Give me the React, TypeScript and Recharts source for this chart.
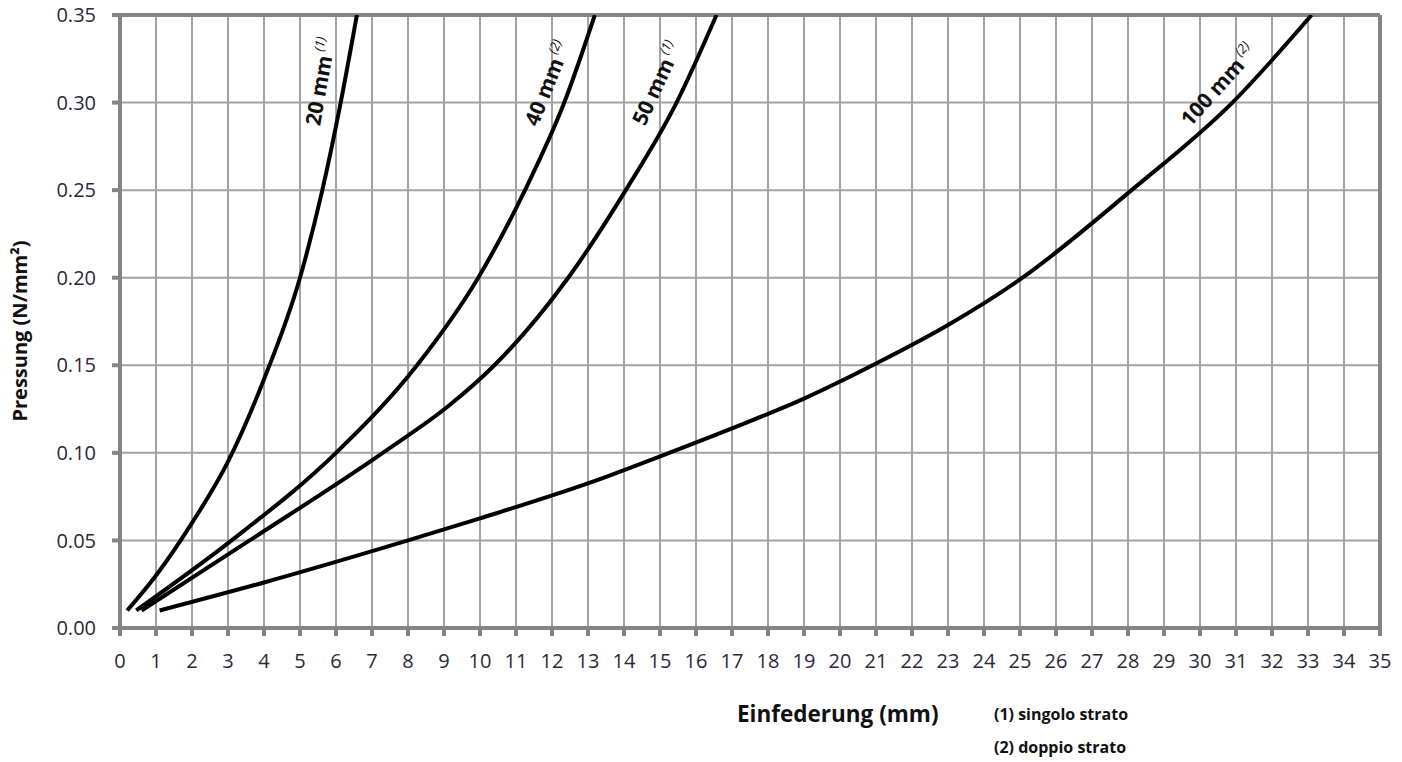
import { LineChart, Line, XAxis, YAxis, CartesianGrid, ReferenceLine, ReferenceDot } from 'recharts'

// Einfederung (mm) vs Pressung (N/mm²)
const curve20 = [
    { x: 0.2, y: 0.01 }, { x: 1, y: 0.03 }, { x: 2, y: 0.06 }, { x: 3, y: 0.095 },
    { x: 4, y: 0.142 }, { x: 5, y: 0.2 }, { x: 5.62, y: 0.25 }, { x: 6.13, y: 0.3 },
    { x: 6.58, y: 0.35 },
]
const curve40 = [
    { x: 0.45, y: 0.01 }, { x: 3.1, y: 0.05 }, { x: 6.0, y: 0.1 }, { x: 8.25, y: 0.15 },
    { x: 9.95, y: 0.2 }, { x: 11.25, y: 0.25 }, { x: 12.34, y: 0.3 }, { x: 13.19, y: 0.35 },
]
const curve50 = [
    { x: 0.6, y: 0.01 }, { x: 3.6, y: 0.05 }, { x: 7.3, y: 0.1 }, { x: 9.2, y: 0.128 },
    { x: 10.4, y: 0.15 }, { x: 12.45, y: 0.2 }, { x: 14.05, y: 0.25 }, { x: 15.46, y: 0.3 },
    { x: 16.57, y: 0.35 },
]
const curve100 = [
    { x: 1.1, y: 0.01 }, { x: 4, y: 0.026 }, { x: 8, y: 0.05 }, { x: 10, y: 0.0626 },
    { x: 13.33, y: 0.085 }, { x: 15, y: 0.098 }, { x: 17, y: 0.114 }, { x: 19, y: 0.131 },
    { x: 21, y: 0.151 }, { x: 23, y: 0.173 }, { x: 25, y: 0.199 }, { x: 28.1, y: 0.25 },
    { x: 30.9, y: 0.3 }, { x: 33.1, y: 0.35 },
]

const xTicks = Array.from({ length: 36 }, (_, i) => i)
const yTicks = [0, 0.05, 0.1, 0.15, 0.2, 0.25, 0.3, 0.35]

// curve labels: text, footnote, anchor (data coords), rotation
const curveLabels = [
    { name: '20 mm', note: '(1)', x: 5.55, y: 0.312, angle: -80 },
    { name: '40 mm', note: '(2)', x: 11.86, y: 0.311, angle: -68 },
    { name: '50 mm', note: '(1)', x: 14.9, y: 0.311, angle: -65 },
    { name: '100 mm', note: '(2)', x: 30.5, y: 0.31, angle: -48 },
]

const font = "'Open Sans', sans-serif"
const gridColor = '#a3a3a3'
const frameColor = '#858585'
const tickFont = { fill: '#2a2a3a', fontSize: 20, fontFamily: font }

function RotatedLabel({ viewBox, name, note, angle }: any) {
    const cx = viewBox.x + viewBox.width / 2
    const cy = viewBox.y + viewBox.height / 2
    return (
        <text x={cx} y={cy} transform={`rotate(${angle} ${cx} ${cy})`} textAnchor="middle"
            dominantBaseline="central" fontFamily={font} fontWeight={700} fontSize={21} fill="#111">
            {name}
            <tspan fontSize={13} fontStyle="italic" fontWeight={400} dy={-7}> {note}</tspan>
        </text>
    )
}

export default function App() {
    return (
        <div style={{ position: 'absolute', left: 0, top: 0, width: 1402, height: 762, background: '#fff', fontFamily: font }}>
            <LineChart width={1402} height={762} margin={{ top: 15, right: 22, bottom: 74, left: 0 }}>
                <CartesianGrid stroke={gridColor} strokeWidth={2} />
                <XAxis type="number" dataKey="x" domain={[0, 35]} ticks={xTicks} interval={0} height={60}
                    allowDataOverflow stroke={frameColor} strokeWidth={4} tickSize={8} tickMargin={18}
                    tick={tickFont} />
                <YAxis type="number" dataKey="y" domain={[0, 0.35]} ticks={yTicks} interval={0} width={120}
                    allowDataOverflow stroke={frameColor} strokeWidth={4} tickSize={8} tickMargin={16}
                    tickFormatter={(v: number) => v.toFixed(2)} tick={tickFont} />
                <ReferenceLine x={35} stroke={frameColor} strokeWidth={4} />
                <ReferenceLine y={0.35} stroke={frameColor} strokeWidth={4} />
                <Line data={curve20} dataKey="y" type="monotone" stroke="#000" strokeWidth={4} dot={false} isAnimationActive={false} />
                <Line data={curve40} dataKey="y" type="monotone" stroke="#000" strokeWidth={4} dot={false} isAnimationActive={false} />
                <Line data={curve50} dataKey="y" type="monotone" stroke="#000" strokeWidth={4} dot={false} isAnimationActive={false} />
                <Line data={curve100} dataKey="y" type="monotone" stroke="#000" strokeWidth={4} dot={false} isAnimationActive={false} />
                {curveLabels.map(l => (
                    <ReferenceDot key={l.name} x={l.x} y={l.y} r={0} fill="none" stroke="none"
                        label={(p: any) => <RotatedLabel {...p} name={l.name} note={l.note} angle={l.angle} />} />
                ))}
            </LineChart>
            <div style={{ position: 'absolute', left: 19, top: 331, width: 0, height: 0 }}>
                <div style={{ position: 'absolute', transform: 'translate(-50%,-50%) rotate(-90deg)', whiteSpace: 'nowrap', fontWeight: 700, fontSize: 20, color: '#111' }}>
                    Pressung (N/mm²)
                </div>
            </div>
            <div style={{ position: 'absolute', left: 737, top: 713, transform: 'translateY(-50%)', fontWeight: 700, fontSize: 22.5, color: '#111', whiteSpace: 'nowrap' }}>
                Einfederung (mm)
            </div>
            <div style={{ position: 'absolute', left: 994, top: 714, transform: 'translateY(-50%)', fontWeight: 700, fontSize: 16, color: '#111', whiteSpace: 'nowrap' }}>
                (1) singolo strato
            </div>
            <div style={{ position: 'absolute', left: 994, top: 747, transform: 'translateY(-50%)', fontWeight: 700, fontSize: 16, color: '#111', whiteSpace: 'nowrap' }}>
                (2) doppio strato
            </div>
        </div>
    )
}
